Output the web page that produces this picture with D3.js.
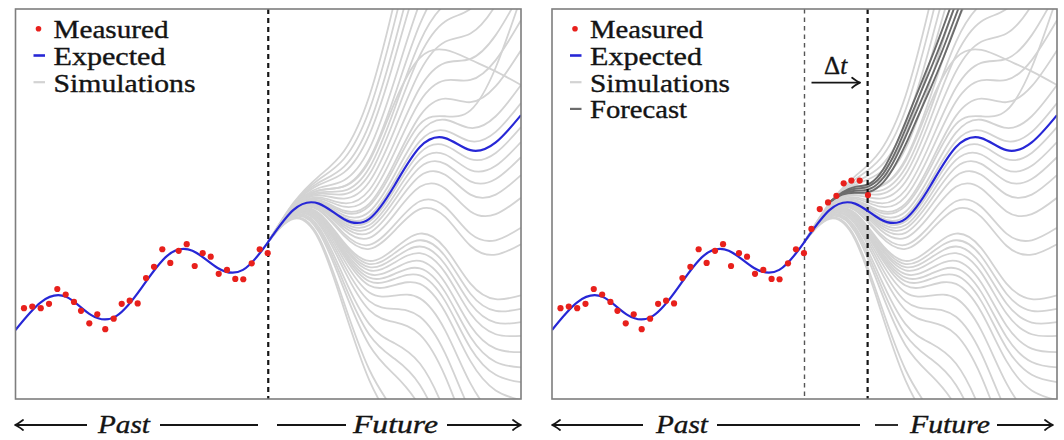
<!DOCTYPE html>
<html>
<head>
<meta charset="utf-8">
<script src="https://cdn.jsdelivr.net/npm/d3@7"></script>
<style>
  html, body { margin: 0; padding: 0; background: #fff; }
  svg { display: block; }
  text { font-family: "Liberation Serif", "DejaVu Serif", serif; fill: #141414; stroke: #141414; stroke-width: 0.35; }
</style>
</head>
<body>
<svg id="chart" width="1064" height="440"></svg>
<script>
// ---- data -------------------------------------------------------------
// expected trajectory (time, value)
const expectedT = [0, 5, 10, 15, 20, 25, 30, 35, 40, 45, 50, 55, 60, 65, 70, 75, 80, 85, 90, 95, 100];
const expectedV = [1.77, 2.48, 2.62, 2.15, 2.13, 2.86, 3.67, 3.80, 3.36, 3.31, 4.03, 4.85, 5.01, 4.61, 4.62, 5.48, 6.46, 6.69, 6.38, 6.58, 7.28];

// measurements (time, value)
const measuredT = [1.68, 3.32, 4.99, 6.63, 8.27, 9.93, 11.57, 12.96, 14.60, 16.18, 17.76, 19.43, 21.01, 22.59, 24.17,
  25.82, 27.40, 29.04, 30.62, 32.28, 33.87, 35.45, 37.03, 38.62, 40.20, 41.84, 43.48, 45.06, 46.73, 48.31, 49.89,
  51.37, 53.02, 54.66, 56.32, 57.76, 59.29, 60.93, 62.57];
const measuredV = [2.33, 2.37, 2.33, 2.44, 2.82, 2.68, 2.49, 2.26, 1.94, 2.17, 1.79, 2.06, 2.44, 2.52, 2.45,
  3.10, 3.39, 3.84, 3.49, 3.80, 3.97, 3.41, 3.74, 3.65, 3.21, 3.31, 3.08, 3.07, 3.48, 3.84, 3.74,
  4.36, 4.87, 5.04, 5.21, 5.53, 5.60, 5.60, 5.23];

// simulated futures, sampled at simT
const simT = [50, 55, 60, 65, 70, 75, 80, 85, 90, 95, 100];
const simulations = [
  [4.03, 5.03, 5.71, 6.36, 7.77, 10.21, 12.94, 14.92, 16.36, 18.31, 20.76],
  [4.03, 5.01, 5.63, 6.16, 7.41, 9.67, 12.20, 13.98, 15.22, 16.97, 19.22],
  [4.03, 4.99, 5.55, 5.96, 7.05, 9.13, 11.46, 13.04, 14.08, 15.63, 17.68],
  [4.03, 4.97, 5.49, 5.81, 6.78, 8.72, 10.90, 12.33, 13.22, 14.62, 16.52],
  [4.03, 4.95, 5.41, 5.61, 6.42, 8.18, 10.16, 11.39, 12.08, 13.28, 14.98],
  [4.03, 4.94, 5.35, 5.46, 6.15, 7.78, 9.61, 10.69, 11.23, 12.28, 13.83],
  [4.03, 4.92, 5.30, 5.34, 5.93, 7.45, 9.16, 10.12, 10.54, 11.47, 12.90],
  [4.03, 4.91, 5.26, 5.25, 5.76, 7.20, 8.81, 9.68, 10.00, 10.84, 12.17],
  [4.03, 4.90, 5.22, 5.14, 5.57, 6.90, 8.40, 9.16, 9.37, 10.10, 11.32],
  [4.03, 4.89, 5.17, 5.02, 5.36, 6.59, 7.98, 8.62, 8.72, 9.33, 10.44],
  [4.03, 4.88, 5.14, 4.93, 5.19, 6.33, 7.63, 8.17, 8.18, 8.69, 9.71],
  [4.03, 4.87, 5.10, 4.83, 5.01, 6.06, 7.26, 7.70, 7.61, 8.02, 8.94],
  [4.03, 4.86, 5.05, 4.71, 4.80, 5.75, 6.83, 7.16, 6.95, 7.25, 8.05],
  [4.03, 4.85, 5.03, 4.65, 4.69, 5.59, 6.61, 6.88, 6.61, 6.85, 7.59],
  [4.03, 4.85, 4.99, 4.57, 4.55, 5.37, 6.31, 6.50, 6.15, 6.31, 6.97],
  [4.03, 4.84, 4.97, 4.52, 4.46, 5.24, 6.13, 6.27, 5.87, 5.98, 6.59],
  [4.03, 4.84, 4.95, 4.47, 4.37, 5.10, 5.94, 6.03, 5.58, 5.64, 6.20],
  [4.03, 4.83, 4.93, 4.41, 4.26, 4.94, 5.72, 5.75, 5.24, 5.24, 5.74],
  [4.03, 4.82, 4.90, 4.34, 4.13, 4.74, 5.44, 5.40, 4.81, 4.74, 5.16],
  [4.03, 4.81, 4.86, 4.24, 3.95, 4.47, 5.07, 4.93, 4.24, 4.07, 4.39],
  [4.03, 4.81, 4.84, 4.18, 3.85, 4.32, 4.87, 4.67, 3.93, 3.70, 3.97],
  [4.03, 4.79, 4.77, 4.01, 3.54, 3.86, 4.24, 3.87, 2.96, 2.56, 2.66],
  [4.03, 4.79, 4.75, 3.97, 3.46, 3.74, 4.07, 3.66, 2.70, 2.26, 2.31],
  [4.03, 4.78, 4.73, 3.92, 3.38, 3.62, 3.91, 3.45, 2.45, 1.96, 1.97],
  [4.03, 4.78, 4.72, 3.88, 3.30, 3.50, 3.74, 3.24, 2.19, 1.66, 1.62],
  [4.03, 4.77, 4.69, 3.82, 3.20, 3.35, 3.54, 2.98, 1.88, 1.29, 1.20],
  [4.03, 4.77, 4.67, 3.77, 3.11, 3.21, 3.35, 2.74, 1.59, 0.95, 0.81],
  [4.03, 4.76, 4.65, 3.72, 3.02, 3.08, 3.17, 2.51, 1.31, 0.62, 0.43],
  [4.03, 4.76, 4.63, 3.66, 2.91, 2.92, 2.95, 2.23, 0.97, 0.22, -0.03],
  [4.03, 4.75, 4.59, 3.56, 2.73, 2.65, 2.58, 1.76, 0.40, -0.46, -0.81],
  [4.03, 4.73, 4.54, 3.44, 2.51, 2.31, 2.11, 1.17, -0.32, -1.29, -1.77],
  [4.03, 4.72, 4.49, 3.31, 2.28, 1.97, 1.65, 0.58, -1.03, -2.13, -2.73],
  [4.03, 4.70, 4.41, 3.11, 1.92, 1.43, 0.91, -0.36, -2.17, -3.47, -4.27],
  [4.03, 4.69, 4.35, 2.96, 1.65, 1.03, 0.36, -1.07, -3.03, -4.48, -5.43],
  [4.03, 4.67, 4.29, 2.81, 1.38, 0.62, -0.20, -1.77, -3.88, -5.48, -6.58],
  [4.03, 4.64, 4.15, 2.46, 0.75, -0.33, -1.50, -3.42, -5.88, -7.83, -9.28],
  [4.03, 4.62, 4.09, 2.31, 0.48, -0.73, -2.05, -4.12, -6.73, -8.83, -10.43],
  [4.03, 4.93, 5.35, 5.45, 6.10, 7.60, 8.75, 8.95, 8.70, 8.40, 8.05],
  [4.03, 4.87, 5.08, 4.78, 4.95, 5.95, 7.05, 7.25, 7.40, 8.50, 10.30]
];

// updated forecasts after the new measurements, sampled at forecastT
const forecastT = [55, 57.5, 60, 62.5, 65, 67.5, 70, 72.5, 75, 77.5, 80, 82.5];
const forecasts = [
  [5.05, 5.30, 5.44, 5.50, 5.78, 6.35, 7.10, 7.90, 8.70, 9.55, 10.45, 11.40],
  [5.05, 5.28, 5.39, 5.44, 5.68, 6.20, 6.92, 7.70, 8.47, 9.28, 10.15, 11.00],
  [5.05, 5.26, 5.34, 5.37, 5.58, 6.05, 6.72, 7.47, 8.22, 9.00, 9.85, 10.70],
  [5.05, 5.24, 5.29, 5.30, 5.48, 5.90, 6.52, 7.25, 7.98, 8.75, 9.58, 10.45]
];

const legendLeft = ["Measured", "Expected", "Simulations"];
const legendRight = ["Measured", "Expected", "Simulations", "Forecast"];

// ---- layout -----------------------------------------------------------
const TOP = 9, BOTTOM = 399;
const COL = {
  measured: "#e8201c",
  expected: "#2727d6",
  sim: "#d3d3d3",
  forecast: "#6c6c6c",
  frame: "#7e7e7e",
  ink: "#161616"
};

const panels = [
  { id: "a", left: 15.5, right: 521, now: 50, earlier: null, count: 31, showForecast: false, legend: legendLeft,
    legendW: [115, 112, 142],
    bottom: { lineA: [15, 87], past: [98, 52], lineB: [160, 258], lineC: [277, 346], future: [353, 85], lineD: [447, 521] } },
  { id: "b", left: 552, right: 1057, now: 62.5, earlier: 50, count: 39, showForecast: true, legend: legendRight,
    legendW: [113, 112, 140, 97],
    bottom: { lineA: [552, 643], past: [656, 52], lineB: [717, 860], lineC: [875, 898], future: [910, 80], lineD: [997, 1053] } }
];

const svg = d3.select("#chart");
const defs = svg.append("defs");

function arrowHead(g, x, y, dir) {
  // a LaTeX-style arrow tip with slightly curved barbs
  const b = 8 * dir;
  g.append("path")
    .attr("d", `M${x - b},${y - 5} Q${x - b * 0.35},${y - 1} ${x},${y} Q${x - b * 0.35},${y + 1} ${x - b},${y + 5}`)
    .attr("fill", "none").attr("stroke", COL.ink).attr("stroke-width", 1.8)
    .attr("stroke-linecap", "round").attr("stroke-linejoin", "round");
}

panels.forEach(p => {
  const x = d3.scaleLinear().domain([0, 100]).range([p.left, p.right]);
  const y = d3.scaleLinear().domain([0, 10]).range([BOTTOM, TOP]);
  const g = svg.append("g");

  defs.append("clipPath").attr("id", "clip-" + p.id)
    .append("rect").attr("x", p.left).attr("y", TOP)
    .attr("width", p.right - p.left).attr("height", BOTTOM - TOP);

  const plot = g.append("g").attr("clip-path", `url(#clip-${p.id})`);
  const line = (ts) => d3.line().x((d, i) => x(ts[i])).y(d => y(d)).curve(d3.curveNatural);

  // simulations
  plot.append("g").selectAll("path").data(simulations).join("path")
    .attr("d", line(simT))
    .attr("fill", "none").attr("stroke", COL.sim).attr("stroke-width", 1.8);

  // forecasts
  if (p.showForecast) {
    plot.append("g").selectAll("path").data(forecasts).join("path")
      .attr("d", line(forecastT))
      .attr("fill", "none").attr("stroke", COL.forecast).attr("stroke-width", 1.9);
  }

  // present-time markers
  if (p.earlier !== null) {
    plot.append("line")
      .attr("x1", x(p.earlier)).attr("x2", x(p.earlier)).attr("y1", TOP).attr("y2", BOTTOM)
      .attr("stroke", "#555").attr("stroke-width", 1.4).attr("stroke-dasharray", "4.5,4");
  }
  plot.append("line")
    .attr("x1", x(p.now)).attr("x2", x(p.now)).attr("y1", TOP).attr("y2", BOTTOM)
    .attr("stroke", COL.ink).attr("stroke-width", 2.2).attr("stroke-dasharray", "5,4");

  // expected trajectory
  plot.append("path")
    .attr("d", line(expectedT)(expectedV))
    .attr("fill", "none").attr("stroke", COL.expected).attr("stroke-width", 2.2);

  // measurements
  plot.append("g").selectAll("circle").data(measuredV.slice(0, p.count)).join("circle")
    .attr("cx", (d, i) => x(measuredT[i])).attr("cy", d => y(d)).attr("r", 3.1)
    .attr("fill", COL.measured);

  // frame
  g.append("rect").attr("x", p.left).attr("y", TOP)
    .attr("width", p.right - p.left).attr("height", BOTTOM - TOP)
    .attr("fill", "none").attr("stroke", COL.frame).attr("stroke-width", 1.6);

  // legend
  const lg = g.append("g");
  const lx = p.left + 38;
  p.legend.forEach((name, i) => {
    const base = 38.3 + i * 26.7;
    const my = base - 9.5;
    if (name === "Measured") {
      lg.append("circle").attr("cx", p.left + 23).attr("cy", my).attr("r", 2.8).attr("fill", COL.measured);
    } else {
      const c = name === "Expected" ? COL.expected : name === "Simulations" ? COL.sim : COL.forecast;
      lg.append("line").attr("x1", p.left + 18).attr("x2", p.left + 29.5).attr("y1", my).attr("y2", my)
        .attr("stroke", c).attr("stroke-width", name === "Expected" ? 2.6 : 2.2);
    }
    lg.append("text").attr("x", lx).attr("y", base)
      .attr("font-size", 24.5)
      .attr("textLength", p.legendW[i]).attr("lengthAdjust", "spacingAndGlyphs")
      .text(name);
  });

  // step between the two present times
  if (p.earlier !== null) {
    const xm = (x(p.earlier) + x(p.now)) / 2;
    const t = g.append("text").attr("x", xm - 0.5).attr("y", 73.5).attr("font-size", 25)
      .attr("text-anchor", "middle");
    t.append("tspan").text("Δ");
    t.append("tspan").attr("font-style", "italic").text("t");
    g.append("line").attr("x1", x(p.earlier) + 7).attr("x2", x(p.now) - 8)
      .attr("y1", 82.7).attr("y2", 82.7).attr("stroke", COL.ink).attr("stroke-width", 1.8);
    arrowHead(g, x(p.now) - 7.5, 82.7, 1);
  }

  // past / future guide underneath
  const b = p.bottom, by = 425;
  const seg = (a) => g.append("line").attr("x1", a[0]).attr("x2", a[1]).attr("y1", by).attr("y2", by)
    .attr("stroke", COL.ink).attr("stroke-width", 1.8);
  seg([b.lineA[0] + 1, b.lineA[1]]);
  arrowHead(g, b.lineA[0], by, -1);
  seg(b.lineB);
  seg(b.lineC);
  seg([b.lineD[0], b.lineD[1] - 1]);
  arrowHead(g, b.lineD[1], by, 1);
  g.append("text").attr("x", b.past[0]).attr("y", 432.5).attr("font-size", 25.5).attr("font-style", "italic")
    .attr("textLength", b.past[1]).attr("lengthAdjust", "spacingAndGlyphs").text("Past");
  g.append("text").attr("x", b.future[0]).attr("y", 432.5).attr("font-size", 25.5).attr("font-style", "italic")
    .attr("textLength", b.future[1]).attr("lengthAdjust", "spacingAndGlyphs").text("Future");
});
</script>
</body>
</html>
